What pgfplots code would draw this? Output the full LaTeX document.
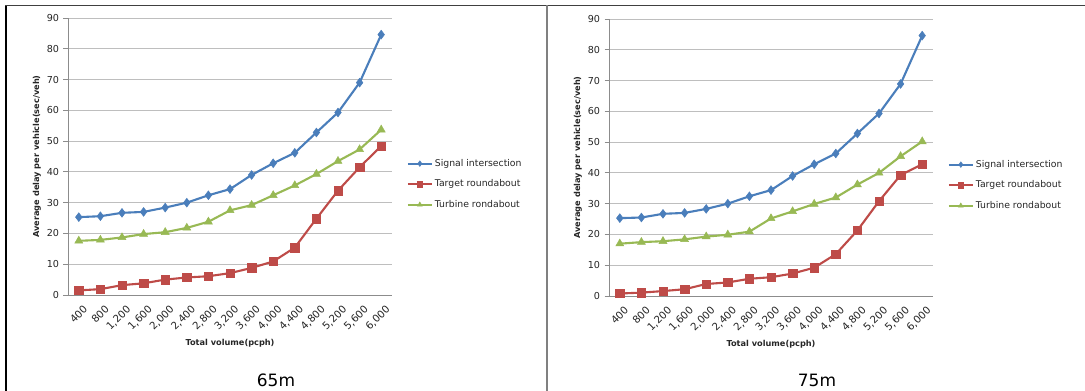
\documentclass[border=0pt]{standalone}
\usepackage{pgfplots}
\usepackage{pgfplotstable}
\pgfplotsset{compat=1.18}
\usepackage{fontspec}
\setmainfont{DejaVu Sans}

\definecolor{sigblue}{HTML}{4A7EBB}
\definecolor{tgtred}{HTML}{BE4B48}
\definecolor{turgreen}{HTML}{98B954}
\definecolor{gridgray}{HTML}{BEBEBE}
\definecolor{axisgray}{HTML}{8C8C8C}
\definecolor{txt}{HTML}{262626}

% Average delay (sec/veh) by total volume, 65 m
\pgfplotstableread{
idx sig  tgt  tur
0   25.3 1.5  17.6
1   25.6 1.9  17.9
2   26.7 3.2  18.7
3   27.0 3.8  19.8
4   28.4 5.0  20.4
5   30.0 5.7  21.8
6   32.4 6.1  23.8
7   34.4 7.1  27.5
8   39.0 8.8  29.2
9   42.8 10.9 32.4
10  46.2 15.4 35.6
11  52.8 24.8 39.3
12  59.3 33.9 43.5
13  69.0 41.5 47.3
14  84.6 48.4 53.7
}\tabA

% Average delay (sec/veh) by total volume, 75 m
\pgfplotstableread{
idx sig  tgt  tur
0   25.3 0.8  17.0
1   25.5 1.1  17.5
2   26.7 1.6  17.8
3   27.0 2.2  18.4
4   28.3 3.9  19.3
5   30.0 4.4  19.9
6   32.4 5.6  20.9
7   34.4 6.1  25.2
8   39.0 7.3  27.5
9   42.8 9.2  29.9
10  46.3 13.6 32.0
11  52.8 21.3 36.2
12  59.3 30.8 40.0
13  68.9 39.3 45.4
14  84.6 42.8 50.2
}\tabB

\pgfplotsset{
  panel/.style={
    scale only axis, width=324pt, height=277pt,
    xmin=-0.5, xmax=14.5, ymin=0, ymax=90,
    ytick={0,10,...,90},
    xtick={0,...,14},
    xticklabels={400,800,{1,200},{1,600},{2,000},{2,400},{2,800},{3,200},{3,600},{4,000},{4,400},{4,800},{5,200},{5,600},{6,000}},
    axis x line*=bottom, axis y line*=left,
    axis line style={axisgray, line width=0.9pt},
    ymajorgrids, grid style={gridgray, line width=0.9pt},
    tick align=outside, major tick length=4.5pt,
    ytick style={axisgray, line width=0.9pt},
    xtick style={draw=none},
    /pgf/number format/assume math mode=true,
    tick label style={text=txt},
    yticklabel style={xshift=-1pt, font=\fontsize{9.6}{10}\selectfont},
    xticklabel style={rotate=45, anchor=north east, xshift=2.5pt, yshift=-3pt,
      font=\fontsize{10.2}{11}\selectfont},
    xlabel={Total volume(pcph)},
    ylabel={Average delay per vehicle(sec/veh)},
    every axis x label/.style={at={(axis description cs:0.5,-0.173)}, anchor=center,
      font=\bfseries\fontsize{8.2}{9}\selectfont, text=txt},
    every axis y label/.style={at={(axis description cs:-0.096,0.5)}, rotate=90, anchor=center,
      font=\bfseries\fontsize{8.2}{9}\selectfont, text=txt},
    legend style={draw=none, fill=none, at={(1.045,0.40)}, anchor=west,
      font=\fontsize{9.3}{10}\selectfont, text=txt, row sep=8pt, inner sep=0pt},
    legend cell align=left,
    legend image code/.code={
      \draw[#1, mark repeat=2, mark phase=2, mark size=2.8pt]
        plot coordinates {(0pt,0pt) (12pt,0pt) (24pt,0pt)};},
  },
  sigline/.style={sigblue, line width=2.1pt, mark=diamond*, mark size=4.4pt,
    mark options={fill=sigblue, draw=sigblue, line width=0.5pt}},
  tgtline/.style={tgtred, line width=2.1pt, mark=square*, mark size=4.2pt,
    mark options={fill=tgtred, draw=tgtred, line width=0.5pt}},
  turline/.style={turgreen, line width=2.1pt, mark=triangle*, mark size=4.6pt,
    mark options={fill=turgreen, draw=turgreen, line width=0.5pt}},
}

\begin{document}
\begin{tikzpicture}[x=1pt, y=1pt]
\useasboundingbox (0,0) rectangle (1085,391);
\fill[white] (0,0) rectangle (1085,391);

% panel frames
\draw[line width=1.6pt, black] (6,0) -- (6,385.5);
\draw[line width=1.6pt, black!75] (5.2,385.5) -- (1085,385.5);
\draw[line width=2pt, black!50] (546.5,0) -- (546.5,385.5);

\begin{axis}[panel, at={(68pt,96pt)}, anchor=south west]
  \addplot[sigline] table[x=idx, y=sig] {\tabA};
  \addlegendentry{Signal intersection}
  \addplot[tgtline] table[x=idx, y=tgt] {\tabA};
  \addlegendentry{Target roundabout}
  \addplot[turline] table[x=idx, y=tur] {\tabA};
  \addlegendentry{Turbine rondabout}
\end{axis}

\begin{axis}[panel, at={(609pt,95pt)}, anchor=south west]
  \addplot[sigline] table[x=idx, y=sig] {\tabB};
  \addlegendentry{Signal intersection}
  \addplot[tgtline] table[x=idx, y=tgt] {\tabB};
  \addlegendentry{Target roundabout}
  \addplot[turline] table[x=idx, y=tur] {\tabB};
  \addlegendentry{Turbine rondabout}
\end{axis}

\node[font=\fontsize{17}{20}\selectfont, text=black] at (276,11) {65m};
\node[font=\fontsize{17}{20}\selectfont, text=black] at (817,11) {75m};
\end{tikzpicture}
\end{document}
